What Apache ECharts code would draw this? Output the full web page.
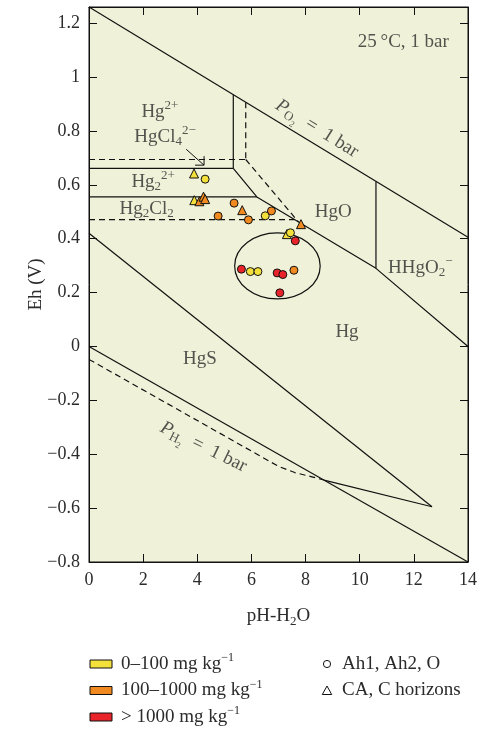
<!DOCTYPE html>
<html><head><meta charset="utf-8">
<script src="https://cdn.jsdelivr.net/npm/echarts@6/dist/echarts.min.js"></script>
<style>html,body{margin:0;padding:0;background:#fff}#c{width:481px;height:729px}</style>
</head><body><div id="c"></div>
<script>
const FONT = "'Liberation Serif', 'DejaVu Serif', serif";
const TXT = '#2b2b2b';
const YELLOW = '#f3e03b', ORANGE = '#f08a20', RED = '#e8232a';

// ---- stability-field boundaries (pH, Eh) ----
const po2Line = [[0, 1.26], [14, 0.405]];
const hgsUpper = [[0, 0.42], [12.67, -0.595]];
const hgsLower = [[0, 0.0], [14, -0.8]];
const hgsWedge = [[8.72, -0.497], [12.67, -0.595]];
const ph2Dashed = [[0, -0.048], [7.0, -0.445], [7.6, -0.468], [8.2, -0.483], [8.72, -0.497]];
const hg2Vertical = [[5.33, 0.934], [5.33, 0.661]];
const hg2Horizontal = [[0, 0.661], [5.33, 0.661]];
const hg2Cl2Upper = [[0, 0.555], [6.20, 0.555]];
const hgBoundary = [[5.33, 0.661], [6.20, 0.555], [10.60, 0.290], [14, 0.0]];
const hhgo2Vertical = [[10.60, 0.612], [10.60, 0.290]];
const dashVertical = [[5.79, 0.906], [5.79, 0.694]];
const dashHorizontal = [[0, 0.694], [5.79, 0.694]];
const dashDiagonal = [[5.79, 0.694], [7.74, 0.462]];
const dashLower = [[0, 0.471], [7.6, 0.471]];

// ---- samples ----
const circlesYellow = [[4.29, 0.621], [6.51, 0.485], [7.44, 0.422], [5.96, 0.278], [6.24, 0.278]];
const circlesOrange = [[5.36, 0.532], [4.77, 0.484], [5.89, 0.470], [6.74, 0.503], [7.57, 0.283]];
const circlesRed = [[7.62, 0.392], [5.63, 0.287], [6.95, 0.273], [7.16, 0.267], [7.05, 0.199]];
const trianglesYellow = [[3.88, 0.642], [3.89, 0.543], [7.31, 0.417]];
const trianglesOrange = [[4.08, 0.539], [4.23, 0.556], [4.29, 0.547], [5.66, 0.506], [7.83, 0.454]];

// ellipse around cluster: [pH, Eh, rx, ry]
const clusterEllipse = [[6.96, 0.299, 1.58, 0.1225]];
// arrow to HgCl4 field: [pH1, Eh1, pH2, Eh2]
const arrowLine = [[3.59, 0.732, 4.25, 0.673]];

// ---- annotations [pH, Eh, text, rotation] ----
const annotations = [
  [11.61, 1.131, '25\u2009°C, 1 bar', 0],
  [2.62, 0.871, 'Hg{sup|2+}', 0],
  [2.81, 0.778, 'HgCl{sub|4}{sup|2−}', 0],
  [2.37, 0.611, 'Hg{sub|2}{sup|2+}', 0],
  [2.13, 0.512, 'Hg{sub|2}Cl{sub|2}', 0],
  [9.02, 0.498, 'HgO', 0],
  [12.24, 0.291, 'HHgO{sub|2}{sup|−}', 0],
  [9.53, 0.054, 'Hg', 0],
  [4.10, -0.045, 'HgS', 0],
  [8.42, 0.809, '{it|P}{sub|O}{subsub|2}  =  1 bar', -32],
  [4.23, -0.373, '{it|P}{sub|H}{subsub|2}  =  1 bar', -26]
];

const xTicks = {min: 0, max: 14, interval: 2};
const yTicks = {min: -0.8, max: 1.26, interval: 0.2};

const legendConc = [
  ['0–100 mg kg{sup|−1}', YELLOW],
  ['100–1000 mg kg{sup|−1}', ORANGE],
  ['> 1000 mg kg{sup|−1}', RED]
];
const legendShape = [['circle', 'Ah1, Ah2, O'], ['triangle', 'CA, C horizons']];

const richLabel = {
  sup: {fontSize: 13, fontFamily: FONT, color: TXT, padding: [0, 0, 12, 0]},
  sub: {fontSize: 13, fontFamily: FONT, color: TXT, padding: [10, 0, 0, 0]},
  subsub: {fontSize: 9, fontFamily: FONT, color: TXT, padding: [20, 0, 0, 0]},
  it: {fontSize: 19, fontFamily: FONT, color: TXT, fontStyle: 'italic'}
};
const richGraphic = {
  sup: {fontSize: 12, fontFamily: FONT, fill: TXT, padding: [0, 0, 12, 0]},
  sub: {fontSize: 12, fontFamily: FONT, fill: TXT, padding: [10, 0, 0, 0]}
};

function lineSeries(data, dashed) {
  return {type: 'line', data: data, symbol: 'none', silent: true, z: 3,
    lineStyle: {color: '#111', width: 1.2, type: dashed ? [6, 4] : 'solid'}};
}
function scatter(data, symbol, color) {
  return {type: 'scatter', data: data, symbol: symbol, symbolSize: symbol === 'circle' ? 8 : 9, z: 6,
    itemStyle: {color: color, borderColor: '#111', borderWidth: 1, opacity: 1}};
}
const fmt = v => String(+v.toFixed(1)).replace('-', '−');

const series = [
  lineSeries(po2Line), lineSeries(hgsUpper), lineSeries(hgsLower), lineSeries(hgsWedge),
  lineSeries(ph2Dashed, true), lineSeries(hg2Vertical), lineSeries(hg2Horizontal),
  lineSeries(hg2Cl2Upper), lineSeries(hgBoundary), lineSeries(hhgo2Vertical),
  lineSeries(dashVertical, true), lineSeries(dashHorizontal, true), lineSeries(dashDiagonal, true),
  lineSeries(dashLower, true),
  {type: 'custom', data: clusterEllipse, encode: {x: 0, y: 1}, z: 4, silent: true,
    renderItem: function (p, api) {
      const c = api.coord([api.value(0), api.value(1)]);
      const s = api.size([api.value(2), api.value(3)]);
      return {type: 'ellipse', shape: {cx: c[0], cy: c[1], rx: s[0], ry: s[1]},
        style: {fill: 'none', stroke: '#111', lineWidth: 1.2}};
    }},
  {type: 'custom', data: arrowLine, encode: {x: [0, 2], y: [1, 3]}, z: 4, silent: true,
    renderItem: function (p, api) {
      const a = api.coord([api.value(0), api.value(1)]);
      const b = api.coord([api.value(2), api.value(3)]);
      return {type: 'group', children: [
        {type: 'line', shape: {x1: a[0], y1: a[1], x2: b[0], y2: b[1]}, style: {stroke: '#111', lineWidth: 1}},
        {type: 'polyline', shape: {points: [[b[0] - 9, b[1]], [b[0], b[1]], [b[0], b[1] - 9]]},
          style: {stroke: '#111', fill: null, lineWidth: 1}}
      ]};
    }},
  scatter(trianglesYellow, 'triangle', YELLOW),
  scatter(trianglesOrange, 'triangle', ORANGE),
  scatter(circlesYellow, 'circle', YELLOW),
  scatter(circlesOrange, 'circle', ORANGE),
  scatter(circlesRed, 'circle', RED),
  {type: 'scatter', symbolSize: 0, silent: true, z: 7,
    data: annotations.map(a => ({value: [a[0], a[1]],
      label: {show: true, position: 'inside', formatter: a[2], rotate: a[3],
        fontSize: 19, fontFamily: FONT, color: TXT, rich: richLabel}}))}
];

const graphic = [];
legendConc.forEach((l, i) => {
  const cy = 664 + i * 26.5;
  graphic.push({type: 'rect', shape: {x: 90, y: cy - 4, width: 22, height: 8},
    style: {fill: l[1], stroke: '#111', lineWidth: 1}});
  graphic.push({type: 'text', x: 121, y: cy, style: {text: l[0], rich: richGraphic,
    fontSize: 19, fontFamily: FONT, fill: TXT, verticalAlign: 'middle'}});
});
legendShape.forEach((l, i) => {
  const cy = 664 + i * 26.5;
  if (l[0] === 'circle') {
    graphic.push({type: 'circle', shape: {cx: 327, cy: cy, r: 3.6}, style: {fill: '#fff', stroke: '#111', lineWidth: 1}});
  } else {
    graphic.push({type: 'polygon', shape: {points: [[327, cy - 4.5], [322.3, cy + 4], [331.7, cy + 4]]},
      style: {fill: '#fff', stroke: '#111', lineWidth: 1}});
  }
  graphic.push({type: 'text', x: 342, y: cy, style: {text: l[1], fontSize: 19, fontFamily: FONT, fill: TXT, verticalAlign: 'middle'}});
});

const axisCommon = {
  splitLine: {show: false},
  axisLine: {show: true, onZero: false, lineStyle: {color: '#111', width: 1}},
  axisTick: {show: true, inside: true, length: 8, lineStyle: {color: '#111', width: 1}}
};

const chart = echarts.init(document.getElementById('c'));
chart.setOption({
  animation: false,
  backgroundColor: '#fff',
  grid: {left: 89, right: 13, top: 7, bottom: 167, show: true, backgroundColor: '#eff2d8', borderColor: '#111', borderWidth: 1},
  xAxis: [
    Object.assign({type: 'value', position: 'bottom', min: xTicks.min, max: xTicks.max, interval: xTicks.interval,
      name: 'pH-H{sub|2}O', nameLocation: 'middle', nameGap: 43, nameMoveOverlap: false,
      nameTextStyle: {fontSize: 19, fontFamily: FONT, color: TXT, rich: richLabel},
      axisLabel: {fontSize: 18, fontFamily: FONT, color: TXT, margin: 9, formatter: fmt}}, axisCommon),
    Object.assign({type: 'value', position: 'top', min: xTicks.min, max: xTicks.max, interval: xTicks.interval,
      axisLabel: {show: false}}, axisCommon)
  ],
  yAxis: [
    Object.assign({type: 'value', position: 'left', min: yTicks.min, max: yTicks.max, interval: yTicks.interval,
      name: 'Eh (V)', nameLocation: 'middle', nameGap: 43, nameRotate: 90, nameMoveOverlap: false,
      nameTextStyle: {fontSize: 19, fontFamily: FONT, color: TXT},
      axisLabel: {fontSize: 18, fontFamily: FONT, color: TXT, margin: 9, formatter: fmt, showMaxLabel: false}}, axisCommon),
    Object.assign({type: 'value', position: 'right', min: yTicks.min, max: yTicks.max, interval: yTicks.interval,
      axisLabel: {show: false}}, axisCommon)
  ],
  series: series,
  graphic: graphic
});
</script>
</body></html>
